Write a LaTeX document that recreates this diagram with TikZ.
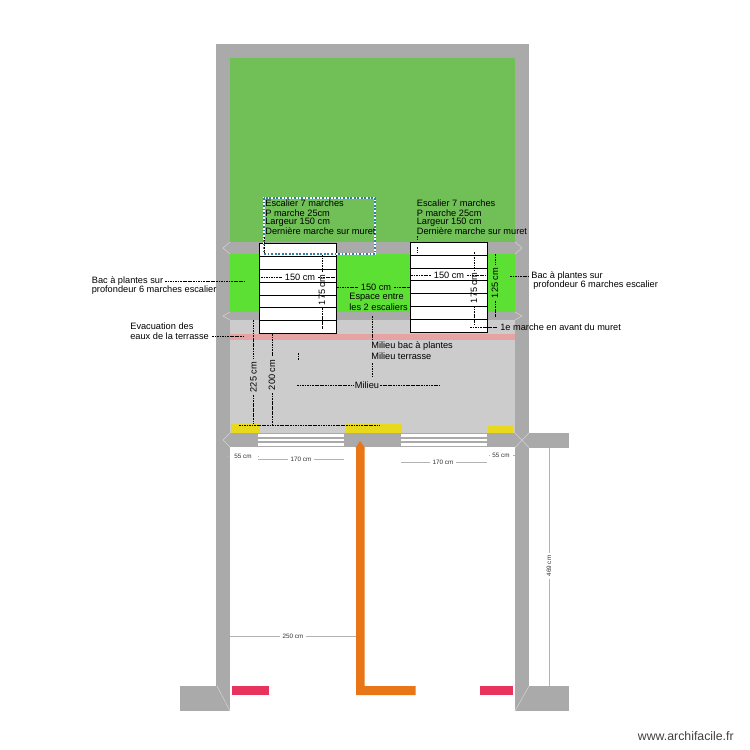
\documentclass[tikz,border=0pt]{standalone}
\usepackage{fontspec}
\setmainfont{Liberation Sans}
\definecolor{wallgrey}{HTML}{AAAAAA}
\definecolor{lawngreen}{HTML}{70C057}
\definecolor{bacgreen}{HTML}{5CE033}
\definecolor{terrasse}{HTML}{CCCCCC}
\definecolor{evacpink}{HTML}{E5A3A3}
\definecolor{dooryellow}{HTML}{E8D91C}
\definecolor{pipeorange}{HTML}{E87516}
\definecolor{bacred}{HTML}{E8335C}
\definecolor{selblue}{HTML}{2F7FA8}
\tikzset{
  lbl/.style={font=\fontsize{5.25}{6}\selectfont, inner sep=0pt, anchor=west},
  mid/.style={font=\fontsize{5.25}{6}\selectfont, inner sep=1.5pt},
  cote/.style={font=\fontsize{3.6}{4}\selectfont, inner sep=1.5pt, text=black!80},
  dashline/.style={line width=.4pt, dash pattern=on 1pt off .45pt},
  dimline/.style={line width=.35pt, black!30},
  mitre/.style={line width=.3pt, white!50!wallgrey}
}
\begin{document}
\begin{tikzpicture}[x=.02cm, y=-.02cm]

      \useasboundingbox (0,0) rectangle (750,750);

      \fill[wallgrey] (216,44) rectangle (529,711);
      \fill[white] (230,447) rectangle (515,711);
      \fill[wallgrey] (180,686) rectangle (230,711);
      \fill[wallgrey] (515,686) rectangle (569,711);
      \fill[wallgrey] (529,433) rectangle (569,447.5);

      \fill[lawngreen] (230,58) rectangle (515,242);
      \fill[bacgreen] (230,254) rectangle (515,312);
      \fill[terrasse] (230,320) rectangle (515,433);
      \fill[evacpink] (230,334) rectangle (515,340);

      \draw[mitre] (230,242) -- (223,248) -- (230,254);
      \draw[mitre] (230,312) -- (223,316) -- (230,320);
      \draw[mitre] (515,242) -- (522,248) -- (515,254);
      \draw[mitre] (515,312) -- (522,316) -- (515,320);
      \draw[mitre] (230,433) -- (223,440) -- (230,447);
      \draw[mitre] (515,433) -- (529,447.5);
      \draw[mitre] (529,433) -- (515,447.5);
      \draw[mitre] (217,686) -- (230,711);
      \draw[mitre] (529,686) -- (515,711);

      \fill[dooryellow] (231,424) rectangle (260,433);
      \fill[dooryellow] (346,424) rectangle (402,433);
      \fill[dooryellow] (488,426) rectangle (513,433);

      \fill[white] (258,434) rectangle (344,446);
      \draw[wallgrey, line width=.6pt] (258,438) -- (344,438);
      \draw[wallgrey, line width=.6pt] (258,442) -- (344,442);
      \fill[white] (401,434) rectangle (487,446);
      \draw[wallgrey, line width=.6pt] (401,438) -- (487,438);
      \draw[wallgrey, line width=.6pt] (401,442) -- (487,442);

      \fill[pipeorange] (360,441) -- (365,448) -- (364.5,448) -- (364.5,686) -- (415.5,686) -- (415.5,695) -- (356,695) -- (356,448) -- (355.5,448) -- cycle;
      \fill[bacred] (232,686) rectangle (269,695);
      \fill[bacred] (480,686) rectangle (513,695);

      \draw[fill=white, line width=.5pt] (259,243) rectangle (336,333);
      \draw[line width=.5pt] (259,256.5) -- (336,256.5);
      \draw[line width=.5pt] (259,269.5) -- (336,269.5);
      \draw[line width=.5pt] (259,282.5) -- (336,282.5);
      \draw[line width=.5pt] (259,295) -- (336,295);
      \draw[line width=.5pt] (259,307.5) -- (336,307.5);
      \draw[line width=.5pt] (259,320.5) -- (336,320.5);

      \draw[fill=white, line width=.5pt] (410,242.5) rectangle (487,332);
      \draw[line width=.5pt] (410,255.5) -- (487,255.5);
      \draw[line width=.5pt] (410,268) -- (487,268);
      \draw[line width=.5pt] (410,280.5) -- (487,280.5);
      \draw[line width=.5pt] (410,293.5) -- (487,293.5);
      \draw[line width=.5pt] (410,306.5) -- (487,306.5);
      \draw[line width=.5pt] (410,319) -- (487,319);

      \draw[white, line width=.7pt] (264,198) rectangle (375,254);
      \draw[selblue, line width=.7pt, dash pattern=on 1pt off 1pt] (264,198) rectangle (375,254);

      \node[lbl] (escgauche1) at (265,203) {Escalier 7 marches};
      \node[lbl] (escgauche2) at (265,213) {P marche 25cm};
      \node[lbl] (escgauche3) at (265,222) {Largeur 150 cm};
      \node[lbl] (escgauche4) at (265,231) {Dernière marche sur muret};

      \node[lbl] (escdroit1) at (416.5,203) {Escalier 7 marches};
      \node[lbl] (escdroit2) at (416.5,213) {P marche 25cm};
      \node[lbl] (escdroit3) at (416.5,222) {Largeur 150 cm};
      \node[lbl] (escdroit4) at (416.5,231) {Dernière marche sur muret};

      \draw[dashline] (264.5,237) -- (264.5,253);
      \draw[dashline] (417,236) -- (417,241);
      \draw[dashline] (417,247) -- (417,253);
      \draw[dashline] (298,353) -- (298,360);

      \node[mid] (largegauche) at (300,277) {150 cm};
      \draw[dashline] (261,277) -- (largegauche.west);
      \draw[dashline] (largegauche.east) -- (335,277);

      \node[mid, rotate=90] (hautgauche) at (322,290) {175 cm};
      \draw[dashline] (322,255) -- (hautgauche.east);
      \draw[dashline] (hautgauche.west) -- (322,329);

      \node[mid] (espace) at (376,287) {150 cm};
      \draw[dashline] (337,287) -- (espace.west);
      \draw[dashline] (espace.east) -- (410,287);
      \node[lbl] (espace1) at (349,297) {Espace entre};
      \node[lbl] (espace2) at (349,307) {les 2 escaliers};

      \node[lbl] (milieubac) at (371,346) {Milieu bac à plantes};
      \node[lbl] (milieuter) at (371,356) {Milieu terrasse};
      \draw[dashline] (372,316) -- (372,340);
      \draw[dashline] (372,363) -- (372,378);

      \node[mid, rotate=90] (cote225) at (253.5,377) {225 cm};
      \draw[dashline] (253.5,320) -- (cote225.east);
      \draw[dashline] (cote225.west) -- (253.5,424);
      \node[mid, rotate=90] (cote200) at (272,375) {200 cm};
      \draw[dashline] (272,334) -- (cote200.east);
      \draw[dashline] (cote200.west) -- (272,424);
      \draw[dashline] (239,425) -- (380,425);

      \node[mid, inner sep=.5pt] (milieu) at (367,385) {Milieu};
      \draw[dashline] (297,385) -- (milieu.west);
      \draw[dashline] (milieu.east) -- (440,385);

      \node[mid] (largedroit) at (449,275) {150 cm};
      \draw[dashline] (411,275) -- (largedroit.west);
      \draw[dashline] (largedroit.east) -- (486,275);

      \node[mid, rotate=90] (hautdroit) at (474,288) {175 cm};
      \draw[dashline] (474,252) -- (hautdroit.east);
      \draw[dashline] (hautdroit.west) -- (474,325);

      \node[mid, rotate=90] (cote125) at (495,283) {125 cm};
      \draw[dashline] (495,254) -- (cote125.east);
      \draw[dashline] (cote125.west) -- (495,317);

      \node[lbl] (marche) at (500,327) {1e marche en avant du muret};
      \draw[dashline] (470,327) -- (498,327);

      \node[lbl] (bacdroit1) at (531,276) {Bac à plantes sur};
      \node[lbl] (bacdroit2) at (533,285) {profondeur 6 marches escalier};
      \draw[dashline] (510,276) -- (528,276);

      \node[lbl] (bacgauche1) at (91.5,281) {Bac à plantes sur};
      \node[lbl] (bacgauche2) at (91.5,290) {profondeur 6 marches escalier};
      \draw[dashline] (165,281) -- (245,281);

      \node[lbl] (evac1) at (130,326) {Evacuation des};
      \node[lbl] (evac2) at (130,336) {eaux de la terrasse};
      \draw[dashline] (212,336) -- (245,336);

      \node[cote, inner sep=4pt] (c55g) at (243,456.5) {55 cm};
      \draw[dimline] (230,456.5) -- (c55g.west);
      \draw[dimline] (c55g.east) -- (258,456.5);
      \node[cote] (c170g) at (301,459) {170 cm};
      \draw[dimline] (258,459) -- (c170g.west);
      \draw[dimline] (c170g.east) -- (344,459);
      \node[cote] (c170d) at (443,462) {170 cm};
      \draw[dimline] (401,462) -- (c170d.west);
      \draw[dimline] (c170d.east) -- (487,462);
      \node[cote] (c55d) at (501,455) {55 cm};
      \draw[dimline] (489,455) -- (c55d.west);
      \draw[dimline] (c55d.east) -- (515,455);
      \node[cote] (c250) at (293,636) {250 cm};
      \draw[dimline] (230,636) -- (c250.west);
      \draw[dimline] (c250.east) -- (356,636);
      \node[cote, rotate=90] (c469) at (549,566) {469 cm};
      \draw[dimline] (549,447.5) -- (c469.east);
      \draw[dimline] (c469.west) -- (549,686);

      \node[font=\fontsize{7}{8}\selectfont, inner sep=0pt, anchor=east, text=black!75] (marque) at (734,736) {www.archifacile.fr};

    \end{tikzpicture}
\end{document}
